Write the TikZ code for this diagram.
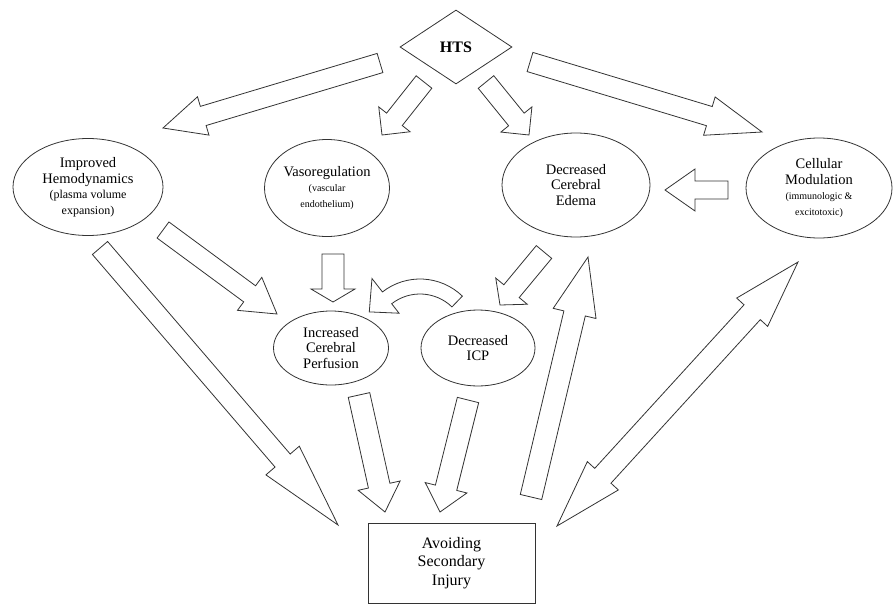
\documentclass[tikz,border=0pt]{standalone}
\usepackage{fontspec}
\setmainfont{Liberation Serif}
\usetikzlibrary{calc,shapes.geometric}

\tikzset{
  fatline/.style={draw=black!80, line width=0.8pt, line join=miter, fill=white},
  bubble/.style={ellipse, draw=black!80, line width=0.8pt, inner sep=0pt, align=center, font=\fontsize{14.5}{15.5}\selectfont},
  small/.style={font=\fontsize{10}{12.5}\selectfont}
}

% hollow block arrow: tail, tip, shaft half width, head half width, head length
\newcommand{\fatarrow}[5]{%
  \coordinate (fa-b) at ($(#2)!#5!(#1)$);
  \draw[fatline] ($(#1)!#3!90:(#2)$) -- ($(fa-b)!#3!-90:(#1)$) -- ($(fa-b)!#4!-90:(#1)$) -- (#2)
    -- ($(fa-b)!#4!90:(#1)$) -- ($(fa-b)!#3!90:(#1)$) -- ($(#1)!#3!-90:(#2)$) -- cycle;}
% the same with a head at both ends
\newcommand{\fatdouble}[5]{%
  \coordinate (fd-a) at ($(#1)!#5!(#2)$);
  \coordinate (fd-b) at ($(#2)!#5!(#1)$);
  \draw[fatline] (#1) -- ($(fd-a)!#4!90:(#2)$) -- ($(fd-a)!#3!90:(#2)$) -- ($(fd-b)!#3!-90:(#1)$)
    -- ($(fd-b)!#4!-90:(#1)$) -- (#2) -- ($(fd-b)!#4!90:(#1)$) -- ($(fd-b)!#3!90:(#1)$)
    -- ($(fd-a)!#3!-90:(#2)$) -- ($(fd-a)!#4!-90:(#2)$) -- cycle;}

\begin{document}
\begin{tikzpicture}[x=1pt,y=1pt]
\useasboundingbox (0,0) rectangle (893,-605);

\node[diamond, draw=black!80, line width=0.8pt, aspect=1.5, minimum width=112pt, minimum height=74pt, inner sep=0pt,
  font=\fontsize{16}{18}\selectfont\bfseries] (hts) at (456,-47) {HTS};

\node[bubble, minimum width=150pt, minimum height=97pt] (hemo) at (88,-187)
  {Improved\\Hemodynamics\\{\fontsize{12}{13}\selectfont (plasma volume}\\{\fontsize{12}{13}\selectfont expansion)}};
\node[bubble, minimum width=125pt, minimum height=97pt] (vaso) at (327,-188)
  {Vasoregulation\\{\fontsize{10}{12.5}\selectfont (vascular}\\{\fontsize{10}{12.5}\selectfont endothelium)}};
\node[bubble, minimum width=148pt, minimum height=104pt] (edema) at (576,-185) {Decreased\\Cerebral\\Edema};
\node[bubble, minimum width=146pt, minimum height=100pt] (cell) at (819,-188)
  {Cellular\\Modulation\\{\fontsize{10}{12.5}\selectfont (immunologic \&}\\{\fontsize{10}{12.5}\selectfont excitotoxic)}};
\node[bubble, minimum width=115pt, minimum height=74pt] (perf) at (331,-348) {Increased\\Cerebral\\Perfusion};
\node[bubble, minimum width=114pt, minimum height=76pt] (icp) at (478,-348) {Decreased\\ICP};
\node[draw=black!80, line width=0.8pt, minimum width=167pt, minimum height=80pt, align=center,
  font=\fontsize{16}{18.5}\selectfont] (avoid) at (451.5,-563) {Avoiding\\Secondary\\Injury};

% arrow ends
\coordinate (hts-hemo) at (380,-63);   \coordinate (hemo-in) at (163,-128);
\coordinate (hts-vaso) at (424,-82);   \coordinate (vaso-in) at (382,-135);
\coordinate (hts-edema) at (486,-82);  \coordinate (edema-in) at (529,-135);
\coordinate (hts-cell) at (530,-62);   \coordinate (cell-in) at (762,-132);
\coordinate (cell-out) at (728,-190);  \coordinate (edema-side) at (665,-190);
\coordinate (hemo-out) at (163,-230);  \coordinate (perf-in) at (277,-314);
\coordinate (vaso-out) at (333,-254);  \coordinate (perf-top) at (333,-302);
\coordinate (edema-out) at (544,-252); \coordinate (icp-in) at (500,-305);
\coordinate (hemo-low) at (100,-248);  \coordinate (avoid-nw) at (338,-525);
\coordinate (perf-out) at (359,-395);  \coordinate (avoid-n1) at (385,-512);
\coordinate (icp-out) at (468,-400);   \coordinate (avoid-n2) at (440,-512);
\coordinate (avoid-up) at (531,-497);  \coordinate (edema-low) at (588,-257);
\coordinate (avoid-ne) at (557,-526);  \coordinate (cell-low) at (798,-262);

\fatarrow{hts-hemo}{hemo-in}{10pt}{20pt}{42pt}
\fatarrow{hts-vaso}{vaso-in}{10pt}{20pt}{20pt}
\fatarrow{hts-edema}{edema-in}{10pt}{20pt}{20pt}
\fatarrow{hts-cell}{cell-in}{10pt}{20pt}{55pt}
\fatarrow{cell-out}{edema-side}{9pt}{21pt}{30pt}
\fatarrow{hemo-out}{perf-in}{10pt}{20.5pt}{34pt}
\fatarrow{vaso-out}{perf-top}{11pt}{22pt}{13pt}
\fatarrow{edema-out}{icp-in}{10pt}{20.5pt}{18pt}
\fatarrow{hemo-low}{avoid-nw}{10pt}{22pt}{85pt}
\fatarrow{perf-out}{avoid-n1}{11pt}{21.5pt}{27pt}
\fatarrow{icp-out}{avoid-n2}{11pt}{21.5pt}{25pt}
\fatarrow{avoid-up}{edema-low}{11pt}{22pt}{58pt}
\fatdouble{avoid-ne}{cell-low}{11pt}{21pt}{68pt}

% curved arrow from ICP back to perfusion
\coordinate (bend) at (420,-340);
\draw[fatline] ($(bend)+(46:61)$) arc[start angle=46, end angle=128, radius=61]
  -- ($(bend)+(128:78)$) -- ($(bend)+(151:58)$) -- ($(bend)+(128:34)$) -- ($(bend)+(128:46)$)
  arc[start angle=128, end angle=46, radius=46] -- cycle;
\end{tikzpicture}
\end{document}
